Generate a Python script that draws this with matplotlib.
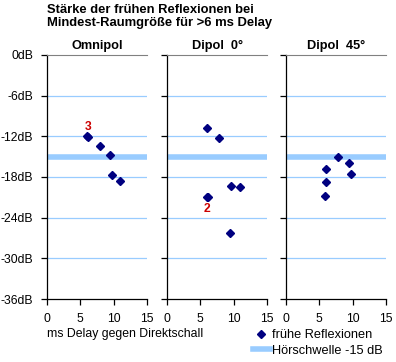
import matplotlib
matplotlib.use("Agg")
import matplotlib.pyplot as plt
from matplotlib.lines import Line2D

plt.rcParams["font.family"] = ["Liberation Sans", "DejaVu Sans"]

# data
panel_titles = ["Omnipol", "Dipol  0°", "Dipol  45°"]
omni_delay = [6.0, 6.2, 7.9, 9.5, 9.7, 11.0]
omni_level = [-12.0, -12.1, -13.5, -14.7, -17.75, -18.6]
dip0_delay = [6.0, 7.85, 9.65, 11.0, 5.95, 6.1, 9.5]
dip0_level = [-10.8, -12.3, -19.4, -19.5, -20.9, -21.0, -26.3]
dip45_delay = [7.85, 9.5, 9.7, 6.05, 6.0, 5.9]
dip45_level = [-15.1, -16.0, -17.6, -16.8, -18.8, -20.8]
threshold_db = -15
y_ticks = [0, -6, -12, -18, -24, -30, -36]
x_ticks = [0, 5, 10, 15]
# red count labels: (panel, x, y, text)
count_labels = [(0, 6.1, -10.6, "3"), (1, 6.0, -22.7, "2")]

series = [(omni_delay, omni_level), (dip0_delay, dip0_level), (dip45_delay, dip45_level)]

NAVY = "#000080"
LIGHT_BLUE = "#99ccff"

fig = plt.figure(figsize=(3.96, 3.62), dpi=100)
W, H = 396, 362
lefts = [47, 167, 286]
axes = []
for i, left in enumerate(lefts):
    ax = fig.add_axes([left / W, 1 - 299 / H, 100 / W, 244 / H])
    axes.append(ax)
    ax.set_xlim(0, 15)
    ax.set_ylim(-36, 0)
    ax.set_xticks(x_ticks)
    ax.set_yticks(y_ticks)
    for y in y_ticks[1:-1]:
        ax.axhline(y, color=LIGHT_BLUE, lw=0.9, zorder=1)
    ax.axhline(threshold_db, color=LIGHT_BLUE, lw=4, zorder=2)
    xs, ys = series[i]
    ax.plot(xs, ys, "D", color=NAVY, ms=4.5, ls="none", zorder=3)
    ax.set_title(panel_titles[i], fontsize=9.2, fontweight="bold", pad=4)
    ax.spines["right"].set_visible(False)
    ax.spines["top"].set_color("#808080")
    ax.spines["left"].set_linewidth(0.9)
    ax.spines["bottom"].set_linewidth(0.9)
    ax.tick_params(direction="out", length=4, width=0.9, labelsize=8.7, pad=6)
    if i == 0:
        ax.set_yticklabels([f"{t}dB" for t in y_ticks])
    else:
        ax.set_yticklabels([])

for panel, x, y, txt in count_labels:
    axes[panel].text(x, y, txt, color="#cc0000", fontsize=8.7, fontweight="bold",
                     ha="center", va="center", zorder=4)

fig.text(47 / W, 1 - 4 / H, "Stärke der frühen Reflexionen bei\nMindest-Raumgröße für >6 ms Delay",
         fontsize=9.4, fontweight="bold", ha="left", va="top", linespacing=1.15)

fig.text(47 / W, 1 - 334 / H, "ms Delay gegen Direktschall", fontsize=8.8,
         ha="left", va="center")

handles = [Line2D([], [], marker="D", color=NAVY, ls="none", ms=4.5),
           Line2D([], [], color=LIGHT_BLUE, lw=4)]
fig.legend(handles, ["frühe Reflexionen", "Hörschwelle -15 dB"],
           loc="center left", bbox_to_anchor=(253 / W, 1 - 343 / H),
           frameon=False, fontsize=9.2, handlelength=1.3, handletextpad=0.15,
           labelspacing=0.3, borderpad=0, borderaxespad=0)

fig.savefig("out.png", dpi=100)
